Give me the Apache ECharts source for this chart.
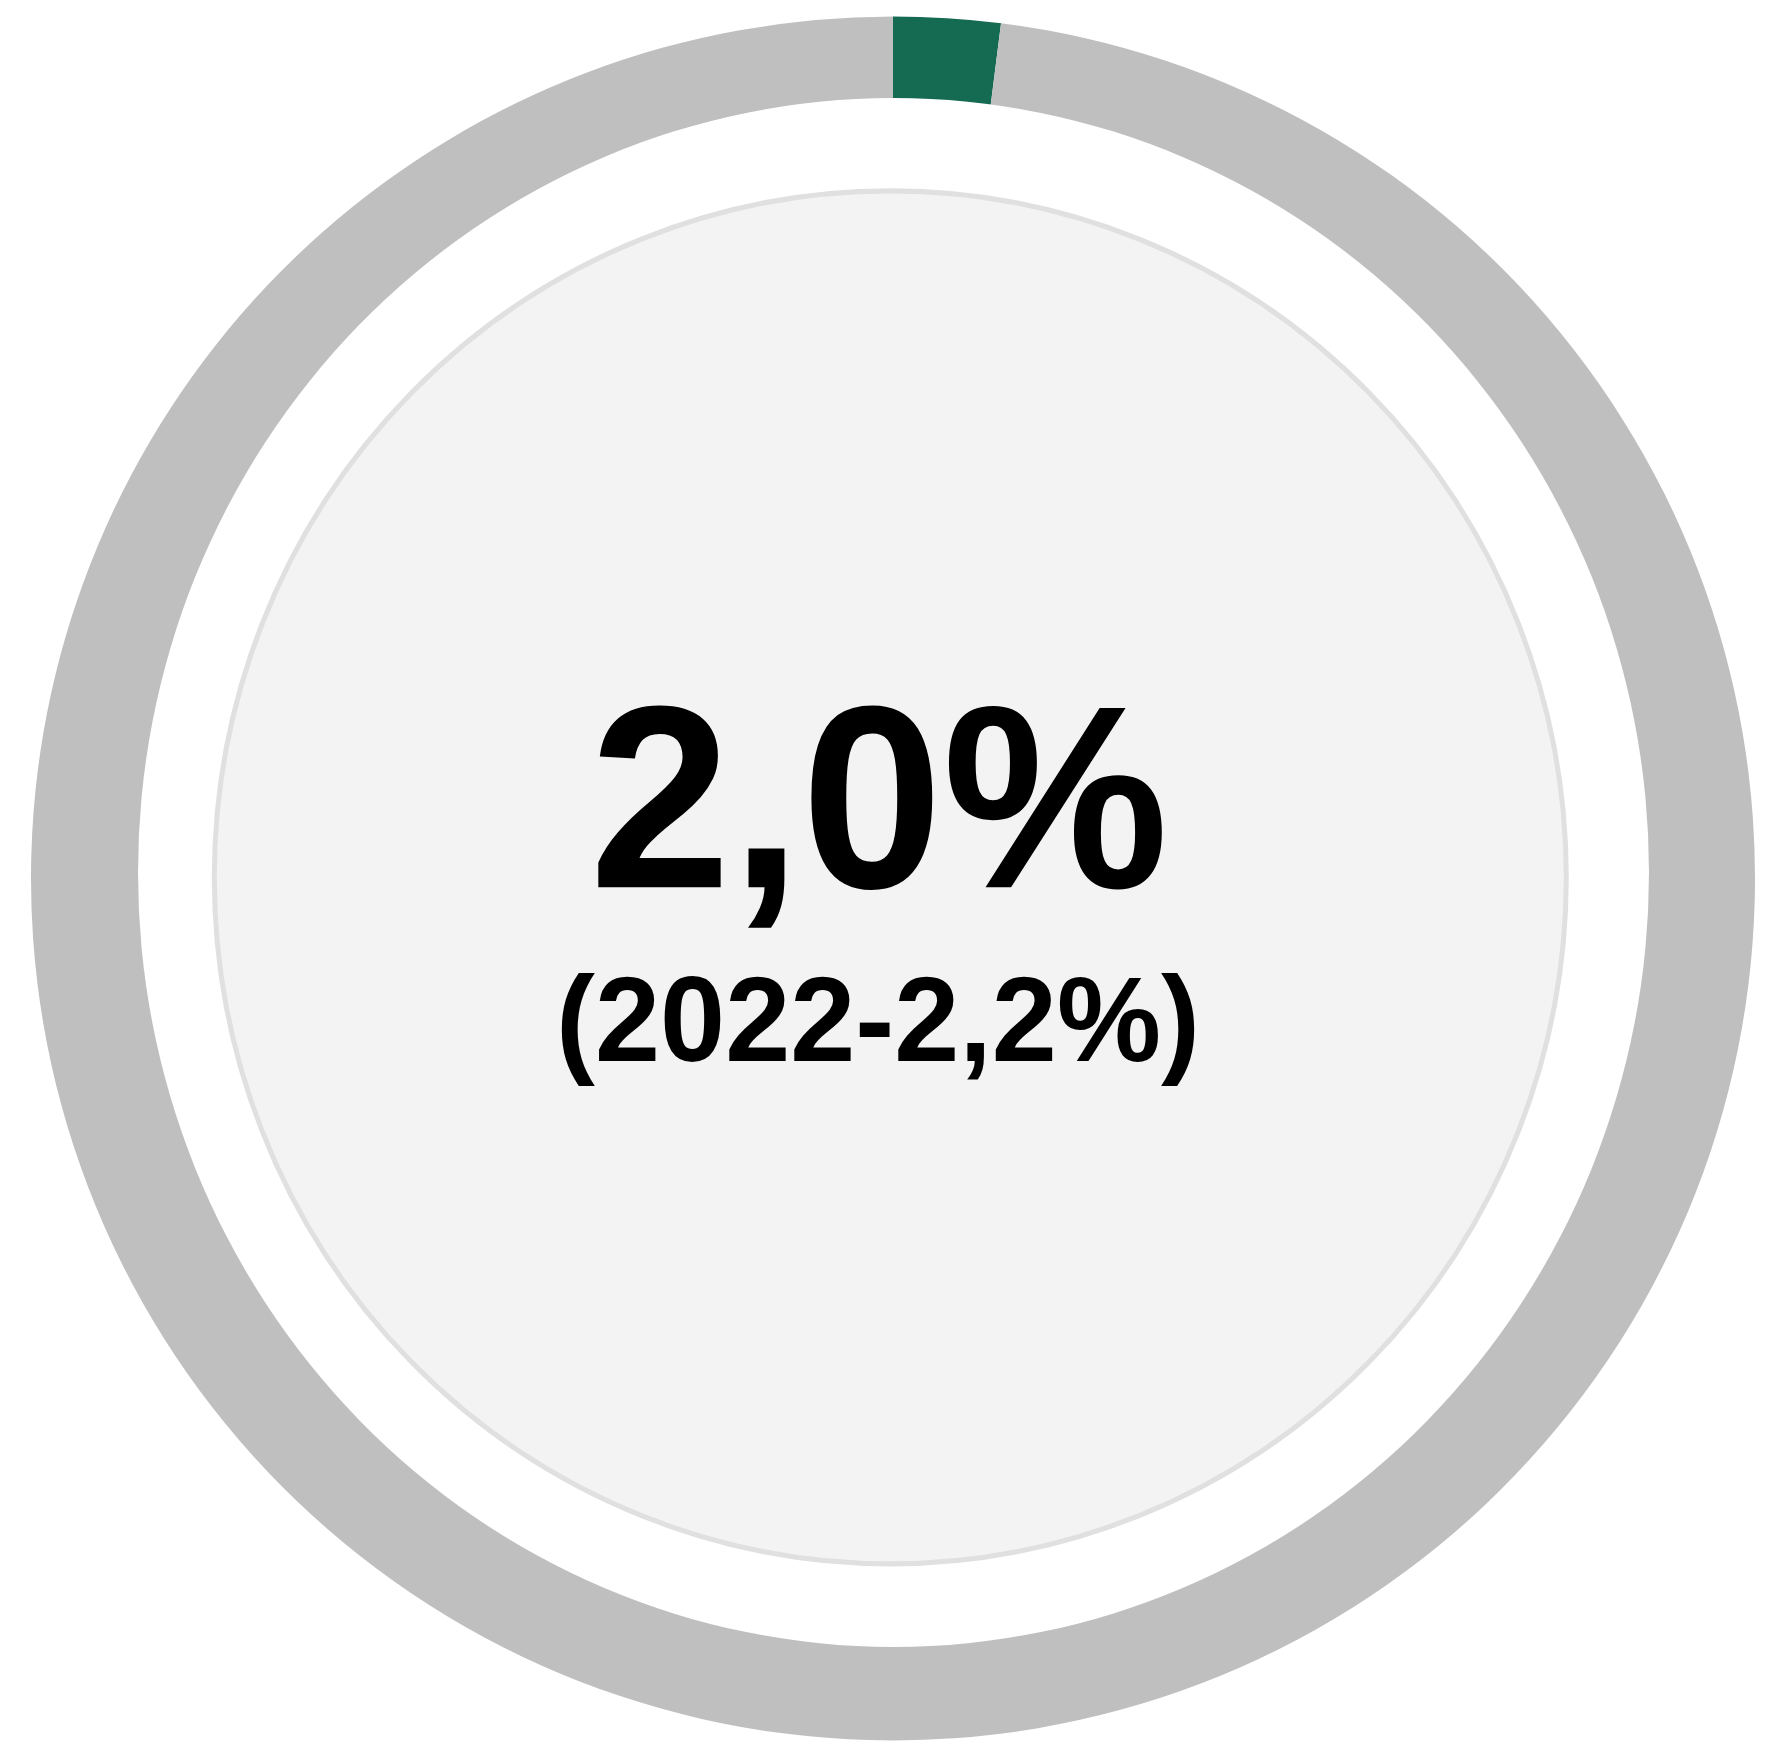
<!DOCTYPE html>
<html>
<head>
<meta charset="utf-8">
<script src="https://cdn.jsdelivr.net/npm/echarts@6/dist/echarts.min.js"></script>
<style>
html,body{margin:0;padding:0;background:#fff;}
#chart{width:1768px;height:1743px;}
</style>
</head>
<body>
<div id="chart"></div>
<script>
const categories = ['Quota', 'Resto'];
const values = [2.0, 98.0];
const colors = ['#156A52', '#BFBFBF'];
const mainLabel = '2,0%';
const subLabel = '(2022-2,2%)';

const chart = echarts.init(document.getElementById('chart'), null, {renderer: 'canvas'});
const font = '"Liberation Sans", Arial, sans-serif';

chart.setOption({
  animation: false,
  backgroundColor: '#ffffff',
  series: [{
    type: 'pie',
    center: [893, 878.4],
    radius: [740, 862],
    startAngle: 90,
    clockwise: true,
    silent: true,
    label: {show: false},
    labelLine: {show: false},
    emphasis: {disabled: true},
    itemStyle: {borderWidth: 0},
    data: categories.map((c, i) => ({name: c, value: values[i], itemStyle: {color: colors[i]}}))
  }],
  graphic: [
    {
      type: 'circle', z: 100, silent: true,
      x: 893.5, y: 872.5, scaleY: 774.5 / 755.5,
      shape: {cx: 0, cy: 0, r: 755.5},
      style: {fill: '#ffffff'}
    },
    {
      type: 'circle', z: 101, silent: true,
      x: 890.3, y: 877.4, scaleY: 686.5 / 676,
      shape: {cx: 0, cy: 0, r: 676},
      style: {fill: '#F3F3F3', stroke: '#E0E0E0', lineWidth: 5}
    },
    {
      type: 'text', z: 102, silent: true,
      x: 879, y: 815.5, scaleY: 1.026,
      style: {text: mainLabel, fill: '#000', font: 'bold 254px ' + font, align: 'center', verticalAlign: 'middle'}
    },
    {
      type: 'text', z: 102, silent: true,
      x: 878, y: 1028, scaleY: 1.03,
      style: {text: subLabel, fill: '#000', font: 'bold 117px ' + font, align: 'center', verticalAlign: 'middle'}
    }
  ]
});
</script>
</body>
</html>
